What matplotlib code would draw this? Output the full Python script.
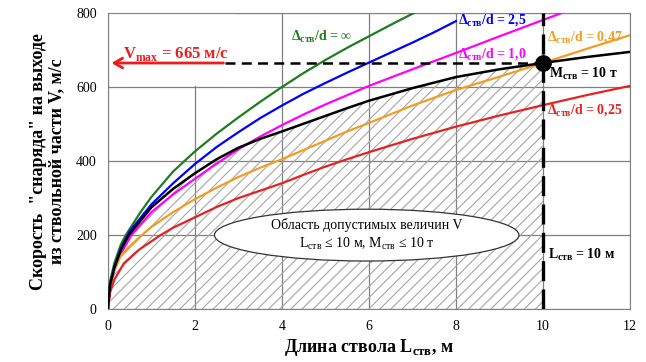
import matplotlib
matplotlib.use("Agg")
import matplotlib.pyplot as plt
from matplotlib.patches import Ellipse, Rectangle

plt.rcParams['font.family'] = ['Liberation Serif', 'DejaVu Serif']
plt.rcParams['mathtext.fontset'] = 'custom'
plt.rcParams['mathtext.rm'] = 'Liberation Serif'
plt.rcParams['mathtext.bf'] = 'Liberation Serif:bold'
plt.rcParams['hatch.linewidth'] = 0.8

# данные (длина ствола, м -> скорость, м/с)
L_inf = [0, 0.05, 0.15, 0.3, 0.41, 0.75, 1, 1.5, 2, 2.5, 3, 3.5, 4, 4.5, 5, 5.5, 6, 6.5, 7, 7.1]
V_inf = [0, 75, 125, 175, 200, 262, 303, 372, 426, 474, 518, 560, 600, 638, 673, 706, 737, 768, 798, 804]

L_25 = [0, 0.05, 0.15, 0.3, 0.5, 1, 1.5, 2, 2.5, 3, 3.5, 4, 4.5, 5, 5.5, 6, 6.5, 7, 7.5, 8]
V_25 = [0, 68, 115, 165, 210, 283, 340, 392, 438, 478, 516, 550, 582, 611, 639, 666, 693, 720, 748, 778]

L_10 = [0, 0.05, 0.15, 0.3, 0.54, 1, 1.5, 2, 2.5, 3, 3.5, 4, 4.5, 5, 5.5, 6, 7, 8, 9, 10, 10.5]
V_10 = [0, 60, 105, 150, 200, 262, 310, 352, 393, 432, 466, 497, 526, 553, 578, 603, 648, 692, 737, 781, 803]

L_m = [0, 0.05, 0.15, 0.3, 0.48, 1, 1.5, 2, 2.5, 3, 3.5, 4, 4.5, 5, 5.5, 6, 7, 8, 9, 10, 11, 12]
V_m = [0, 65, 112, 160, 200, 275, 325, 367, 405, 436, 460, 480, 501, 522, 543, 563, 597, 627, 648, 665, 681, 695]

L_047 = [0, 0.05, 0.12, 0.3, 0.5, 0.78, 1, 1.5, 2, 2.5, 3, 3.5, 4, 4.5, 5, 5.5, 6, 7, 8, 9, 10, 11, 12]
V_047 = [0, 55, 97, 145, 170, 200, 222, 262, 297, 328, 357, 382, 405, 430, 455, 480, 503, 550, 592, 628, 665, 703, 740]

L_025 = [0, 0.05, 0.15, 0.37, 0.71, 1.21, 1.5, 2, 2.5, 3, 3.5, 4, 4.5, 5, 5.5, 6, 7, 8, 9, 10, 11, 12]
V_025 = [0, 45, 80, 124, 160, 200, 220, 248, 276, 300, 320, 340, 363, 385, 405, 424, 460, 493, 523, 551, 578, 603]

V_max = 665
L_max = 10
x_ticks = [0, 2, 4, 6, 8, 10, 12]
y_ticks = [0, 200, 400, 600, 800]

fig = plt.figure(figsize=(6.46, 3.62), dpi=100)
ax = fig.add_axes([0.167, 0.146, 0.808, 0.818])
ax.set_xlim(0, 12)
ax.set_ylim(0, 800)
ax.set_xticks(x_ticks)
ax.set_yticks(y_ticks)
ax.tick_params(length=0, labelsize=10, pad=8)
ax.grid(True, color='#808080', linewidth=0.9)
ax.set_axisbelow(True)
for s in ax.spines.values():
    s.set_color('#808080')

# область допустимых значений (под кривой M = 10 т до L = 10 м)
Lf = [l for l in L_m if l <= L_max]
Vf = V_m[:len(Lf)]
ax.fill_between(Lf, 0, Vf, facecolor='none', edgecolor='#a6a6a6', hatch='///',
                linewidth=0, zorder=1)

# белая подложка под подписью Vmax
ax.add_patch(Rectangle((0.04, 603), 2.9, 194, facecolor='white', edgecolor='none', zorder=1.5))

ax.plot(L_inf, V_inf, color='#1e7d1e', lw=1.6, zorder=3)
ax.plot(L_25, V_25, color='#0000ff', lw=1.6, zorder=3)
ax.plot(L_10, V_10, color='#ff00ff', lw=1.6, zorder=3)
ax.plot(L_047, V_047, color='#f29d1f', lw=1.6, zorder=3)
ax.plot(L_025, V_025, color='#e52222', lw=1.6, zorder=3)
ax.plot(L_m, V_m, color='black', lw=1.8, zorder=4)

ax.plot([L_max, L_max], [0, 800], color='black', lw=2.4, dashes=(6, 2.5), zorder=5)
ax.plot([2.69, L_max], [V_max, V_max], color='black', lw=1.8, dashes=(4, 2.5), zorder=5)
ax.annotate('', xy=(0.02, V_max), xytext=(2.72, V_max),
            arrowprops=dict(arrowstyle='->,head_length=0.6,head_width=0.35', color='#ee1c1c', lw=2),
            zorder=6)
ax.plot([L_max], [V_max], 'o', color='black', ms=11, zorder=6)

ax.text(1.56, 690, r'V$_{\mathbf{max}}$ = 665 м/с', color='#ee1c1c', fontsize=12,
        fontweight='bold', ha='center', va='center', zorder=6)
ax.text(4.2, 735, r'Δ$_{\mathbf{ств}}$/d = ∞', color='#1e7d1e', fontsize=10,
        fontweight='bold', ha='left', va='center', zorder=6)
ax.text(8.05, 780, r'Δ$_{\mathbf{ств}}$/d = 2,5', color='#0000ff', fontsize=10,
        fontweight='bold', ha='left', va='center', zorder=6)
ax.text(8.05, 690, r'Δ$_{\mathbf{ств}}$/d = 1,0', color='#ff00ff', fontsize=10,
        fontweight='bold', ha='left', va='center', zorder=6)
ax.text(10.1, 735, r'Δ$_{\mathbf{ств}}$/d = 0,47', color='#f29d1f', fontsize=10,
        fontweight='bold', ha='left', va='center', zorder=6)
ax.text(10.15, 637, r'M$_{\mathbf{ств}}$ = 10 т', color='black', fontsize=10,
        fontweight='bold', ha='left', va='center', zorder=6)
ax.text(10.1, 537, r'Δ$_{\mathbf{ств}}$/d = 0,25', color='#e52222', fontsize=10,
        fontweight='bold', ha='left', va='center', zorder=6)
ax.text(10.12, 146, r'L$_{\mathbf{ств}}$ = 10 м', color='black', fontsize=10,
        fontweight='bold', ha='left', va='center', zorder=6)

ax.add_patch(Ellipse((5.95, 200), 7.0, 140, facecolor='white', edgecolor='#333333',
                     lw=0.9, zorder=5))
ax.text(5.95, 200, 'Область допустимых величин V\n'
        r'L$_{\mathrm{ств}}$ ≤ 10 м, M$_{\mathrm{ств}}$ ≤ 10 т',
        fontsize=10, ha='center', va='center', linespacing=1.3, zorder=6)

ax.set_xlabel(r'Длина ствола L$_{\mathbf{ств}}$, м', fontsize=13, fontweight='bold', labelpad=3)
ax.set_ylabel('Скорость  "снаряда" на выходе\nиз ствольной части V, м/с', fontsize=13,
              fontweight='bold', labelpad=8, linespacing=1.05)

fig.savefig('out.png', dpi=100)
